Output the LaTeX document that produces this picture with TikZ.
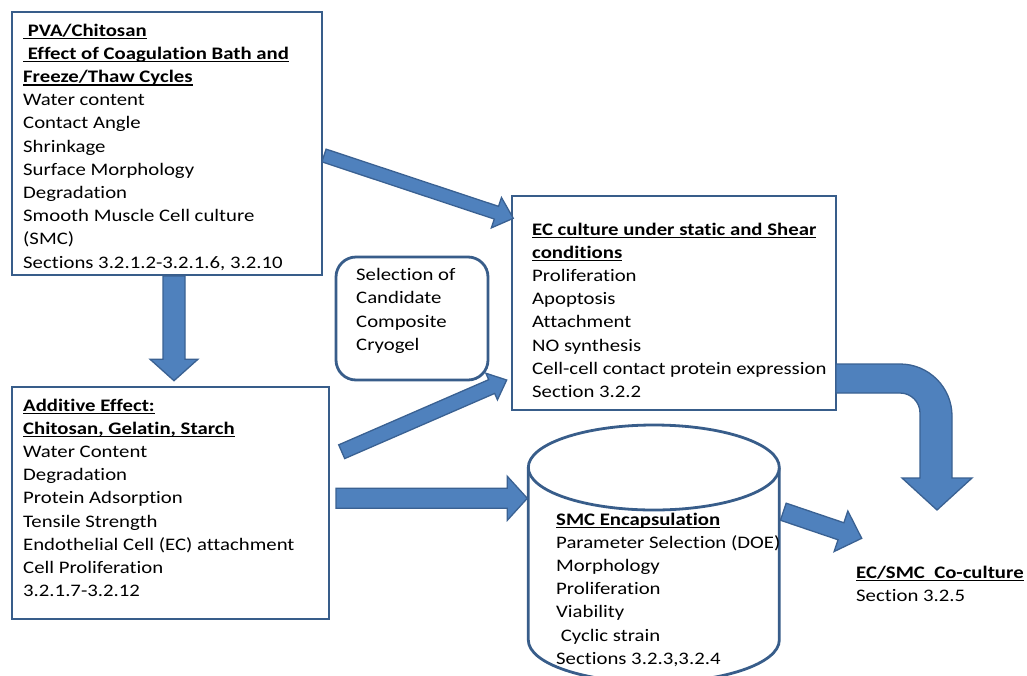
\documentclass[tikz,border=0pt]{standalone}
\usepackage{fontspec}
\setmainfont{Carlito}[FakeStretch=1.18, Ligatures=NoCommon]
\usetikzlibrary{calc}
\definecolor{boxline}{HTML}{385D8A}
\definecolor{arrfill}{HTML}{4F81BD}
\definecolor{arrline}{HTML}{3A6192}
\newcommand\ulb[1]{\setbox0=\hbox{\bfseries #1}\rlap{\rule[-3.1pt]{\wd0}{1.2pt}}\box0}
\newcommand\textlines[1]{\vtop{\baselineskip=23.2pt\lineskiplimit=-20pt #1}}
% start, tip, shaft half width, head half width, head length
\newcommand\blockarrow[5]{%
  \coordinate (bahc) at ($(#2)!#5!(#1)$);
  \filldraw[blockarr] ($(#1)!#3!90:(#2)$) -- ($(bahc)!#3!90:(#2)$) -- ($(bahc)!#4!90:(#2)$)
    -- (#2) -- ($(bahc)!#4!-90:(#2)$) -- ($(bahc)!#3!-90:(#2)$) -- ($(#1)!#3!-90:(#2)$) -- cycle;
}
\begin{document}
\begin{tikzpicture}[x=1pt,y=-1pt,
  panel/.style={draw=boxline, line width=2.8pt, fill=white, inner sep=0pt, outer sep=0pt},
  blockarr/.style={fill=arrfill, draw=arrline, line width=1.3pt, line join=miter},
  txt/.style={anchor=base west, inner sep=0pt, font=\fontsize{17.6}{23.2}\selectfont, text=black}]
\useasboundingbox[fill=white] (0,0) rectangle (1027,675);

% boxes
\node[panel, minimum width=310pt, minimum height=263pt] (pva) at (167,143.5) {};
\node[panel, minimum width=317pt, minimum height=232pt] (add) at (170.5,503) {};
\node[panel, minimum width=324pt, minimum height=214pt] (ec) at (674,303) {};
\node[panel, rounded corners=20pt, minimum width=152pt, minimum height=123pt] (sel) at (412,318.5) {};

% cylinder
\draw[panel] (528.3,467.5) -- (528.3,640) arc[start angle=180, end angle=0, x radius=125.5, y radius=42.5] -- (779.3,467.5);
\draw[panel] (653.8,467.5) ellipse [x radius=125.5, y radius=42.5];

% texts
\node[txt] (pvatext) at (23,36) {\textlines{%
\hbox{\ulb{\ PVA/Chitosan}}
\hbox{\ulb{\ Effect of Coagulation Bath and}}
\hbox{\ulb{Freeze/Thaw Cycles}}
\hbox{Water content}
\hbox{Contact Angle}
\hbox{Shrinkage}
\hbox{Surface Morphology}
\hbox{Degradation}
\hbox{Smooth Muscle Cell culture}
\hbox{(SMC)}
\hbox{Sections 3.2.1.2-3.2.1.6, 3.2.10}}};

\node[txt] (addtext) at (23,411) {\textlines{%
\hbox{\ulb{Additive Effect:}}
\hbox{\ulb{Chitosan, Gelatin, Starch}}
\hbox{Water Content}
\hbox{Degradation}
\hbox{Protein Adsorption}
\hbox{Tensile Strength}
\hbox{Endothelial Cell (EC) attachment}
\hbox{Cell Proliferation}
\hbox{3.2.1.7-3.2.12}}};

\node[txt] (ectext) at (532,235) {\textlines{%
\hbox{\ulb{EC culture under static and Shear}}
\hbox{\ulb{conditions}}
\hbox{Proliferation}
\hbox{Apoptosis}
\hbox{Attachment}
\hbox{NO synthesis}
\hbox{Cell-cell contact protein expression}
\hbox{Section 3.2.2}}};

\node[txt] (seltext) at (356,280.7) {\textlines{%
\hbox{Selection of}
\hbox{Candidate}
\hbox{Composite}
\hbox{Cryogel}}};

\node[txt] (smctext) at (556,525) {\textlines{%
\hbox{\ulb{SMC Encapsulation}}
\hbox{Parameter Selection (DOE)}
\hbox{Morphology}
\hbox{Proliferation}
\hbox{Viability}
\hbox{\ Cyclic strain}
\hbox{Sections 3.2.3,3.2.4}}};

\node[txt] (cotext) at (856,578.3) {\textlines{%
\hbox{\ulb{EC/SMC\ \ Co-culture}}
\hbox{Section 3.2.5}}};

% arrow end points
\coordinate (a1s) at (324,155.5);   \coordinate (a1t) at (513.3,218.3);
\coordinate (a2s) at (174,276);     \coordinate (a2t) at (174,380.7);
\coordinate (a3s) at (341.7,451.7); \coordinate (a3t) at (506.7,380);
\coordinate (a4s) at (336,498.3);   \coordinate (a4t) at (527.3,498.3);
\coordinate (a5s) at (783.3,511.7); \coordinate (a5t) at (861.7,538.3);

\blockarrow{a1s}{a1t}{6.7pt}{16pt}{17.8pt}
\blockarrow{a2s}{a2t}{11pt}{24pt}{21.5pt}
\blockarrow{a3s}{a3t}{7.5pt}{14.5pt}{16.4pt}
\blockarrow{a4s}{a4t}{10pt}{22pt}{20pt}
\blockarrow{a5s}{a5t}{9pt}{21.4pt}{21.9pt}

% bent arrow from EC box to co-culture
\coordinate (bent) at (836,364);
\filldraw[blockarr] (bent) -- (900,364) arc[start angle=-90, end angle=0, radius=52]
  -- (952,478) -- (972,478) -- (937,510) -- (902,478) -- (920,478) -- (920,413)
  arc[start angle=0, end angle=-90, radius=20] -- (836,393) -- cycle;
\end{tikzpicture}
\end{document}
